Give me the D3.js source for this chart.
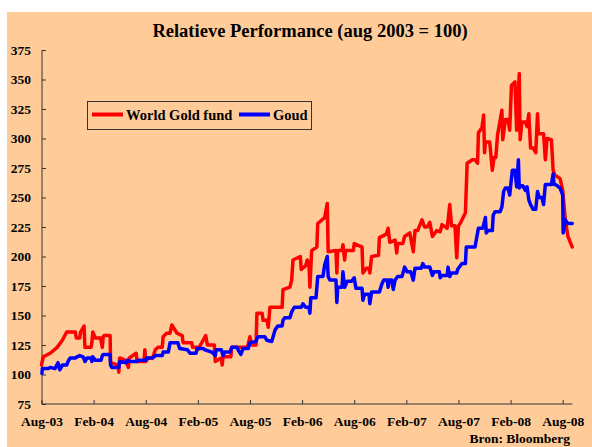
<!DOCTYPE html>
<html><head><meta charset="utf-8">
<script src="https://cdn.jsdelivr.net/npm/d3@7"></script>
<style>html,body{margin:0;padding:0;background:#fff;}svg{display:block;}</style>
</head><body>
<svg id="c" width="592" height="447"></svg>
<script>
// months since Aug 2003 (decimal), index value (aug 2003 = 100)
const tickMonths = [0, 6, 12, 18, 24, 30, 36, 42, 48, 54, 60];
const tickLabels = ["Aug-03","Feb-04","Aug-04","Feb-05","Aug-05","Feb-06","Aug-06","Feb-07","Aug-07","Feb-08","Aug-08"];
const yTicks = [75,100,125,150,175,200,225,250,275,300,325,350,375];
const seriesNames = ["World Gold fund", "Goud"];
const seriesColors = ["#FF0000", "#0000FF"];

const worldGoldFund = [
[0,108],[0.2,115],[1.0,118],[1.8,123],[2.4,129],[2.9,136],[3.9,136],[4.0,131],[4.4,131],[4.5,136],[4.9,141],[5.0,123],[5.7,123],[5.8,127],[5.9,136],[6.2,131],[6.8,131],[7.0,123],[7.1,132],[7.2,133],[7.9,133],[7.95,110],[8.8,108],[8.9,102],[9.0,114],[9.7,112],[10.0,106],[10.1,114],[10.9,118],[11.0,111],[11.8,111],[11.9,121],[12.0,111],[12.3,114],[12.8,114],[13.1,121],[13.4,123],[13.9,123],[14.0,132],[14.4,135],[14.8,135],[15.0,142],[15.6,135],[16.2,133],[16.3,127],[17.3,127],[17.4,123],[17.9,123],[18.0,121],[18.6,129],[18.9,133],[19.1,125],[19.9,125],[20.0,111],[20.7,114],[20.8,108],[20.9,115],[21.8,115],[21.9,123],[23.7,123],[24.0,132],[24.2,125],[24.7,125],[24.8,152],[25.4,152],[25.5,146],[25.95,146],[26.1,140],[26.3,157],[27.7,157],[27.8,172],[28.6,174],[28.8,180],[28.95,197],[29.8,200],[29.9,189],[30.4,192],[30.6,197],[30.8,192],[30.9,174],[31.1,205],[31.7,208],[31.8,228],[32.6,233],[32.9,245],[33.0,204],[33.9,205],[34.0,186],[34.1,205],[34.6,205],[34.7,210],[34.9,197],[35.0,205],[35.9,205],[36.0,211],[36.9,208],[37.0,186],[37.4,190],[37.7,190],[37.8,186],[38.0,200],[38.8,201],[38.9,216],[39.7,219],[39.9,224],[40.1,212],[40.7,214],[40.9,203],[41.0,211],[41.6,211],[41.8,217],[42.4,220],[42.8,204],[43.0,222],[43.3,222],[43.8,231],[44.1,225],[44.4,225],[44.7,229],[45.0,217],[45.5,222],[45.9,221],[46.1,227],[46.7,224],[47.0,244],[47.2,226],[47.6,226],[47.8,199],[48.0,226],[48.2,228],[48.8,237],[49.0,279],[49.6,282],[49.9,282],[50.2,279],[50.3,305],[50.7,309],[50.9,320],[51.0,288],[51.1,297],[51.6,297],[51.9,273],[52.1,284],[52.3,284],[52.5,303],[53.0,324],[53.1,299],[53.4,316],[53.7,316],[53.9,307],[54.1,345],[54.5,348],[54.7,307],[55.0,355],[55.1,299],[55.3,314],[55.7,314],[55.9,310],[56.1,321],[56.3,292],[56.6,292],[56.9,288],[57.1,321],[57.2,304],[57.8,304],[58.0,282],[58.2,300],[58.7,299],[58.9,273],[59.1,269],[59.7,266],[60.0,256],[60.3,231],[60.6,217],[61.1,208]
];

const goud = [
[0.05,101],[0.1,105],[0.75,105],[1.0,106],[1.55,105],[1.9,110],[2.1,104],[2.4,108],[2.9,108],[3.05,111],[3.3,114],[3.9,114],[4.1,115],[4.4,116],[4.8,115],[5.0,111],[5.25,114],[5.7,114],[5.8,111],[5.9,115],[6.2,112],[6.85,112],[7.0,116],[7.1,117],[7.9,117],[7.95,108],[8.1,106],[8.9,106],[9.0,111],[9.8,110],[9.9,112],[10.2,111],[11.0,111],[11.1,112],[12.0,112],[12.1,114],[12.8,114],[13.1,116],[13.9,116],[14.0,119],[14.6,119],[14.8,127],[15.7,127],[15.9,122],[16.8,121],[17.1,118],[17.8,118],[17.9,122],[18.6,122],[18.8,121],[19.6,119],[20.0,116],[20.1,121],[20.7,121],[20.9,116],[21.1,119],[21.7,119],[21.9,123],[22.5,123],[22.7,120],[22.95,117],[23.2,122],[23.8,122],[24.0,127],[24.7,128],[24.9,132],[25.7,132],[25.95,129],[26.5,128],[26.9,138],[27.2,141],[27.7,141],[27.8,146],[28.0,148],[28.6,148],[28.8,153],[29.1,157],[29.9,157],[30.1,160],[30.4,157],[30.8,157],[30.9,152],[31.0,165],[31.6,165],[31.8,183],[32.4,183],[32.6,193],[32.9,200],[33.0,183],[33.2,180],[33.9,180],[34.0,161],[34.1,174],[34.6,174],[34.7,187],[34.9,174],[35.2,179],[35.7,179],[36.0,182],[36.2,173],[36.9,173],[37.0,163],[37.2,168],[37.7,168],[37.8,160],[38.0,170],[38.9,170],[39.2,177],[39.4,180],[39.8,180],[39.9,174],[40.0,180],[40.3,180],[40.5,172],[40.7,180],[41.0,183],[41.5,183],[41.8,191],[42.1,187],[42.5,187],[42.8,180],[43.0,190],[43.7,190],[43.9,194],[44.1,191],[44.7,191],[45.0,184],[45.2,187],[45.8,187],[45.9,182],[46.1,184],[46.7,184],[46.8,191],[47.0,183],[47.2,186],[47.8,186],[47.9,189],[48.4,194],[48.8,194],[48.9,208],[49.9,208],[50.2,220],[50.3,224],[50.8,224],[51.1,233],[51.2,220],[51.4,222],[51.9,222],[52.0,235],[52.2,238],[52.8,238],[53.0,242],[53.2,255],[53.4,258],[53.7,258],[53.9,252],[54.2,273],[54.5,273],[54.7,259],[54.9,282],[55.0,258],[55.2,260],[55.4,260],[55.7,256],[55.9,259],[56.1,248],[56.3,244],[56.6,240],[56.9,240],[57.1,255],[57.3,250],[57.6,250],[57.8,244],[58.0,261],[58.7,261],[58.9,270],[59.0,261],[59.2,261],[59.7,258],[60.0,252],[60.05,220],[60.3,231],[60.6,228],[61.1,228]
];

const svg = d3.select("#c");
const W = 592, H = 447;
const bg = "#FFCC99";
svg.append("rect").attr("x",7).attr("y",12).attr("width",W-7).attr("height",H-12).attr("fill",bg);

const x = d3.scaleLinear().domain([0,60]).range([41.5,562.7]);
const y = d3.scaleLinear().domain([75,375]).range([404,50]);
const xEnd = 61.1;
const font = "'Liberation Serif','Times New Roman',serif";

// title
svg.append("text").attr("x",310).attr("y",37).attr("text-anchor","middle")
  .attr("font-family",font).attr("font-weight","bold").attr("font-size",18.5)
  .attr("fill","#000").text("Relatieve Performance (aug 2003 = 100)");

// axes
const axisColor = "#333";
const gx = svg.append("g").attr("transform",`translate(0,${y(75)})`)
  .call(d3.axisBottom(x).tickValues(tickMonths).tickSize(-4).tickPadding(12)
        .tickFormat((d,i)=>tickLabels[i]));
gx.select(".domain").attr("d",`M${x(0)},0H${x(xEnd)}`).attr("stroke",axisColor);
gx.selectAll(".tick line").attr("stroke",axisColor);
gx.selectAll(".tick text").attr("font-family",font).attr("font-weight","bold")
  .attr("font-size",13.5).attr("fill","#000");

const gy = svg.append("g").attr("transform",`translate(${x(0)+0.5},0)`)
  .call(d3.axisLeft(y).tickValues(yTicks).tickSize(-4).tickPadding(11));
gy.select(".domain").attr("d",`M0,${y(375)}V${y(75)}`).attr("stroke",axisColor);
gy.selectAll(".tick line").attr("stroke",axisColor);
gy.selectAll(".tick text").attr("font-family",font).attr("font-weight","bold")
  .attr("font-size",13.5).attr("fill","#000");

// lines
const line = d3.line().x(d=>x(d[0])).y(d=>y(d[1]));
[worldGoldFund, goud].forEach((s,i)=>{
  svg.append("path").datum(s).attr("d",line).attr("fill","none")
    .attr("stroke",seriesColors[i]).attr("stroke-width",3.5)
    .attr("stroke-linejoin","round").attr("stroke-linecap","round");
});

// legend
const lg = svg.append("g");
lg.append("rect").attr("x",87.5).attr("y",101.5).attr("width",224).attr("height",28)
  .attr("fill",bg).attr("stroke","#333").attr("stroke-width",1);
const legendItems = [{x1:92,x2:123,tx:126},{x1:239,x2:270,tx:273}];
legendItems.forEach((it,i)=>{
  lg.append("line").attr("x1",it.x1).attr("x2",it.x2).attr("y1",114.5).attr("y2",114.5)
    .attr("stroke",seriesColors[i]).attr("stroke-width",4);
  lg.append("text").attr("x",it.tx).attr("y",120).attr("font-family",font)
    .attr("font-weight","bold").attr("font-size",14.5).attr("fill","#000")
    .text(seriesNames[i]);
});

// source
svg.append("text").attr("x",570).attr("y",443).attr("text-anchor","end")
  .attr("font-family",font).attr("font-weight","bold").attr("font-size",13.5)
  .attr("fill","#000").text("Bron: Bloomberg");
</script>
</body></html>
